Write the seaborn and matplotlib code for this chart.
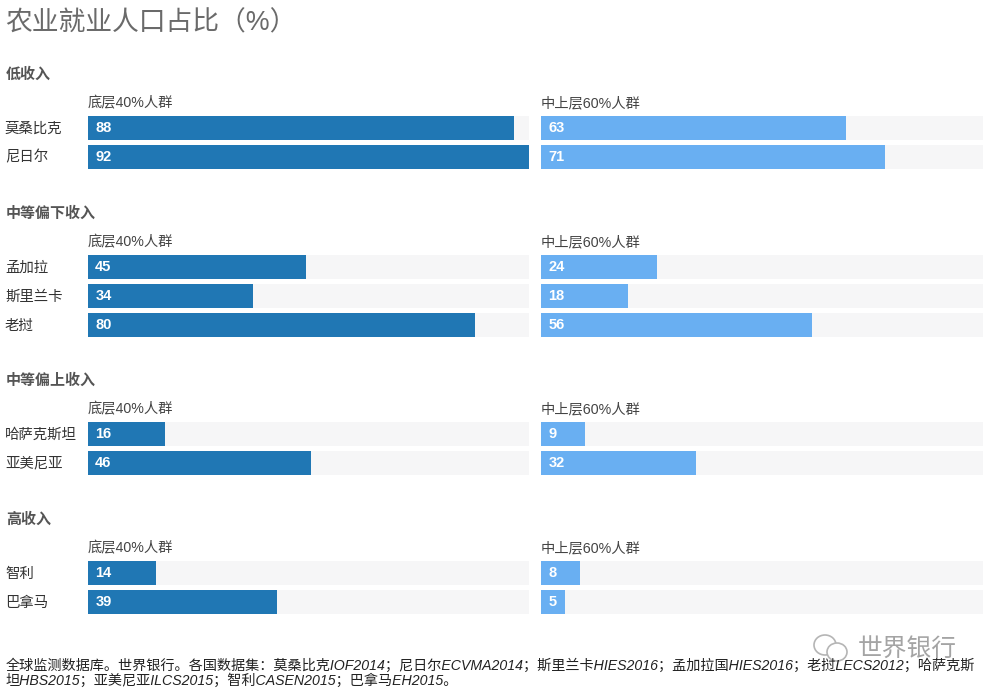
import pandas as pd
import matplotlib.pyplot as plt
import matplotlib.patches as mpatches
from matplotlib.transforms import ScaledTranslation
import seaborn as sns

sns.set_theme(style='white')
plt.rcParams['font.family'] = ['Liberation Sans', 'Noto Sans CJK SC', 'DejaVu Sans']

# data
group_names = ['低收入', '中等偏下收入', '中等偏上收入', '高收入']
countries = [['莫桑比克', '尼日尔'],
             ['孟加拉', '斯里兰卡', '老挝'],
             ['哈萨克斯坦', '亚美尼亚'],
             ['智利', '巴拿马']]
bottom40 = [[88, 92], [45, 34, 80], [16, 46], [14, 39]]
top60 = [[63, 71], [24, 18, 56], [9, 32], [8, 5]]
col_names = ['底层40%人群', '中上层60%人群']

title = '农业就业人口占比（%）'
source = ('全球监测数据库。世界银行。各国数据集：莫桑比克IOF2014；尼日尔ECVMA2014；斯里兰卡HIES2016；'
          '孟加拉国HIES2016；老挝LECS2012；哈萨克斯\n'
          '坦HBS2015；亚美尼亚ILCS2015；智利CASEN2015；巴拿马EH2015。')

W, H = 985, 691
DARK, LIGHT, TRACK = '#2077b4', '#69aff2', '#f6f6f7'
first_bar_top = [116, 255, 422, 561]
col_left = [88, 541]
col_width = [441, 442]
PITCH, BAR_H = 29, 24
PX_PER_UNIT = 4.84


def fx(x):
    return x / W


def fy(y):
    return 1 - y / H


fig = plt.figure(figsize=(W / 100, H / 100), dpi=100)
fig.text(fx(5), fy(30), title, fontsize=19.3, color='#6a6a6a', va='baseline')

for g, name in enumerate(group_names):
    top = first_bar_top[g]
    n = len(countries[g])
    fig.text(fx(6), fy(top - 37), name, fontsize=10.8, fontweight='bold', color='#555555', va='baseline')

    for c, vals in enumerate([bottom40[g], top60[g]]):
        # row band is one pitch tall, bar sits centred in it
        band_top = top - (PITCH - BAR_H) / 2
        ax = fig.add_axes([fx(col_left[c]), fy(band_top + n * PITCH),
                           col_width[c] / W, n * PITCH / H])
        df = pd.DataFrame({'country': countries[g], 'value': vals, 'track': [100] * n})
        sns.barplot(data=df, x='track', y='country', color=TRACK, saturation=1,
                    width=BAR_H / PITCH, orient='h', linewidth=0, ax=ax)
        sns.barplot(data=df, x='value', y='country', color=[DARK, LIGHT][c], saturation=1,
                    width=BAR_H / PITCH, orient='h', linewidth=0, ax=ax)
        ax.set_xlim(0, col_width[c] / PX_PER_UNIT)
        ax.set_xlabel('')
        ax.set_ylabel('')
        ax.set_xticks([])
        sns.despine(ax=ax, left=True, bottom=True)
        ax.patch.set_alpha(0)

        for i, v in enumerate(vals):
            ax.annotate(str(v), xy=(0, i), xytext=(5.2, -0.3), textcoords='offset points',
                        color='white', fontsize=10.5, fontweight='bold', va='center')

        if c == 0:
            ax.tick_params(axis='y', length=0, pad=59.8, labelsize=10.4, labelcolor='#333333')
            nudge = ScaledTranslation(0, 1 / 100, fig.dpi_scale_trans)
            for lab in ax.get_yticklabels():
                lab.set_ha('left')
                lab.set_transform(lab.get_transform() + nudge)
        else:
            ax.set_yticks([])

        fig.text(fx(col_left[c]), fy(top - 9), col_names[c], fontsize=10.3,
                 color='#444444', va='baseline')

# watermark
fig.text(fx(858), fy(657), '世界银行', fontsize=17.8, color='#9a9a9a', va='baseline', alpha=0.9)
fig.add_artist(mpatches.Ellipse((fx(825), fy(645)), 22 / W, 20 / H, fill=False,
                                ec='#b5b5b5', lw=1.2, transform=fig.transFigure))
fig.add_artist(mpatches.Ellipse((fx(837), fy(652)), 20 / W, 18 / H, fc='white',
                                ec='#b5b5b5', lw=1.2, transform=fig.transFigure))

fig.text(fx(6), fy(673), source, fontsize=10.2, style='italic', color='#222222',
         va='center', linespacing=1.1)

fig.savefig('out.png', dpi=100, facecolor='white')
